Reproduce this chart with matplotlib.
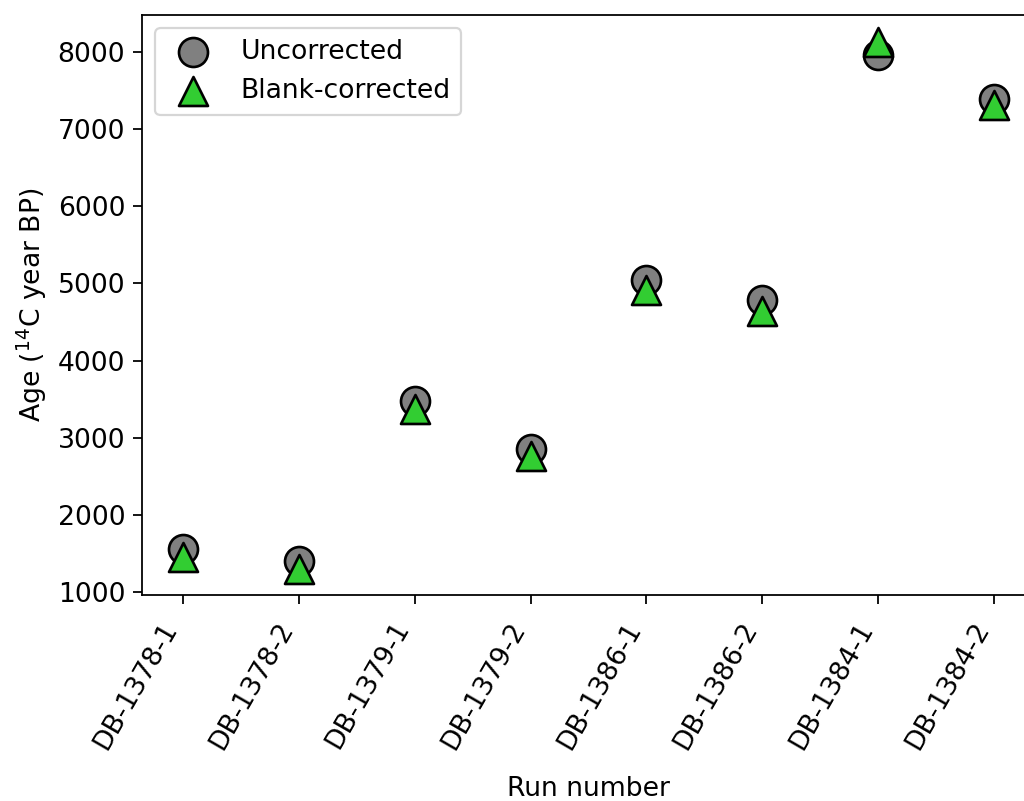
# Radiocarbon ages per run - uncorrected vs blank-corrected

import matplotlib.pyplot as plt

runs = ['DB-1378-1', 'DB-1378-2', 'DB-1379-1', 'DB-1379-2',
        'DB-1386-1', 'DB-1386-2', 'DB-1384-1', 'DB-1384-2']
uncorrected = [1556, 1401, 3471, 2850, 5049, 4790, 7960, 7391]
blank_corrected = [1453, 1298, 3367, 2759, 4920, 4648, 8128, 7313]

plt.rcParams['font.size'] = 12

fig = plt.figure(figsize=(6.4, 801 / 160), dpi=160)
# the right spine falls just outside the saved picture, as in the original
ax = fig.add_axes([0.1387, 0.2572, 0.872, 0.7241])

x = list(range(len(runs)))
ax.scatter(x, uncorrected, s=170, c='gray', edgecolors='black', linewidths=1.2,
           label='Uncorrected', zorder=2)
ax.scatter(x, blank_corrected, s=170, marker='^', c='limegreen', edgecolors='black',
           linewidths=1.2, label='Blank-corrected', zorder=3)

ax.set_xticks(x)
ax.set_xticklabels(runs, rotation=60, ha='right')
ax.tick_params(length=4)
ax.tick_params(axis='x', pad=6)
ax.set_ylim(965, 8475)
ax.set_xlim(-0.35, 7.35)
ax.set_xlabel('Run number', labelpad=10)
ax.set_ylabel('Age ($^{14}$C year BP)')
ax.legend(loc='upper left')

fig.savefig('out.png', dpi=160)
